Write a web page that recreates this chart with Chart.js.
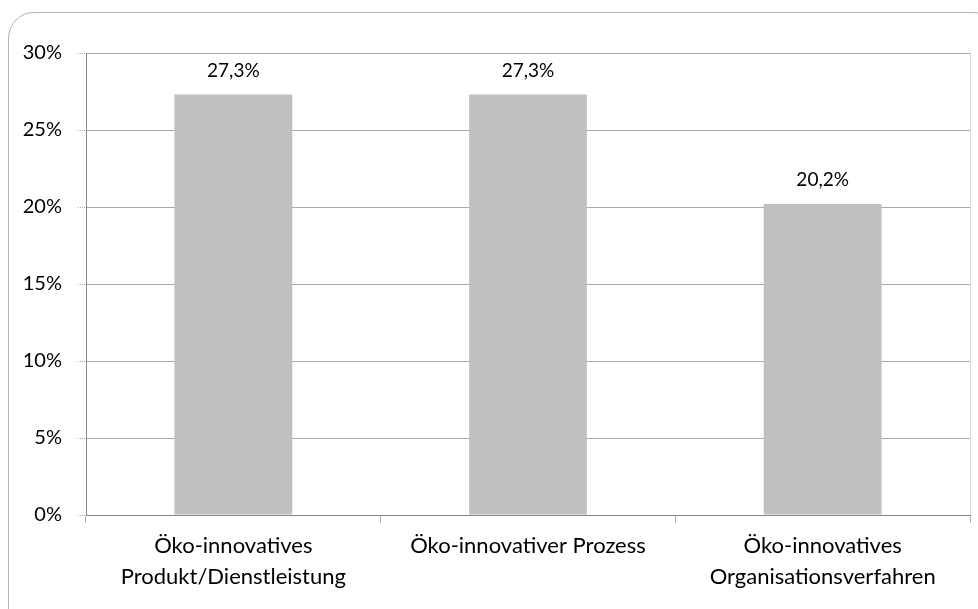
<!DOCTYPE html>
<html>
<head>
<meta charset="utf-8">
<script src="https://cdn.jsdelivr.net/npm/chart.js@4/dist/chart.umd.min.js"></script>
<style>
html, body { margin: 0; padding: 0; background: #fff; overflow: hidden; }
#frame { position: absolute; left: 8px; top: 12px; width: 990px; height: 622px; border: 1px solid #b3b3b3; border-radius: 26px; }
#wrap { position: absolute; left: 0; top: 0; width: 978px; height: 609px; }
</style>
</head>
<body>
<div id="frame"></div>
<div id="wrap"><canvas id="c"></canvas></div>
<script>
var categories = [['Öko-innovatives', 'Produkt/Dienstleistung'], 'Öko-innovativer Prozess', ['Öko-innovatives', 'Organisationsverfahren']]
var shares = [27.3, 27.3, 20.2]
var yTicks = [0, 5, 10, 15, 20, 25, 30]

var FONT = 'Lato'

var valueLabels = {
  id: 'valueLabels',
  afterDatasetsDraw: function(chart) {
    var ctx = chart.ctx
    var meta = chart.getDatasetMeta(0)
    ctx.save()
    ctx.font = '19px ' + FONT
    ctx.fillStyle = '#000'
    ctx.textAlign = 'center'
    ctx.textBaseline = 'middle'
    meta.data.forEach(function(bar, i) {
      ctx.fillText(shares[i].toFixed(1).replace('.', ',') + '%', bar.x, bar.y - 24)
    })
    ctx.restore()
  }
}

var rightEdge = {
  id: 'rightEdge',
  beforeDatasetsDraw: function(chart) {
    var a = chart.chartArea, ctx = chart.ctx
    ctx.save()
    ctx.strokeStyle = '#d9d9d9'
    ctx.lineWidth = 1
    ctx.beginPath()
    ctx.moveTo(Math.round(a.right) + 0.5, a.top)
    ctx.lineTo(Math.round(a.right) + 0.5, a.bottom)
    ctx.stroke()
    ctx.restore()
  }
}

var context = document.getElementById('c').getContext('2d')
var chart = new Chart(context, {
  type: 'bar',
  data: {
    labels: categories,
    datasets: [{
      data: shares,
      backgroundColor: '#c0c0c0',
      borderWidth: 0,
      barPercentage: 0.4,
      categoryPercentage: 1
    }]
  },
  options: {
    responsive: true,
    maintainAspectRatio: false,
    animation: false,
    layout: { padding: { left: 0, right: 8, top: 53, bottom: 0 } },
    plugins: { legend: { display: false }, tooltip: { enabled: false } },
    scales: {
      x: {
        offset: true,
        grid: { offset: true, drawOnChartArea: false, color: '#b0b0b0', tickLength: 8 },
        border: { color: '#868686' },
        ticks: { color: '#000', font: { family: FONT, size: 22, lineHeight: 1.4 }, padding: 8, maxRotation: 0, autoSkip: false },
        afterFit: function(s) { s.height = 94 }
      },
      y: {
        min: 0, max: 30,
        afterBuildTicks: function(s) { s.ticks = yTicks.map(function(v) { return { value: v } }) },
        grid: { color: '#a8a8a8', tickLength: 8, borderDash: [1, 1], tickBorderDash: [1, 1] },
        border: { color: '#868686' },
        ticks: { color: '#000', font: { family: FONT, size: 20 }, padding: 16, callback: function(v) { return v + '%' } },
        afterFit: function(s) { s.width = 86 }
      }
    }
  },
  plugins: [valueLabels, rightEdge]
})
</script>
</body>
</html>
